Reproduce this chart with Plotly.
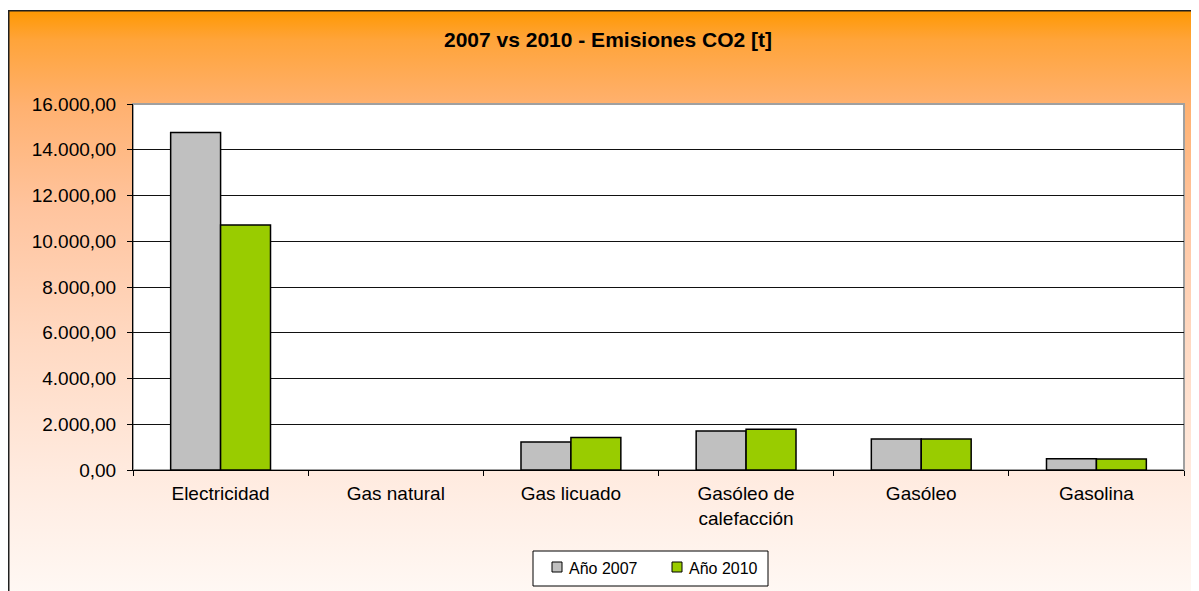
import base64
import plotly.graph_objects as go

categories = ["Electricidad", "Gas natural", "Gas licuado", "Gasóleo de<br>calefacción", "Gasóleo", "Gasolina"]
emisiones_2007 = [14750, 0, 1220, 1710, 1360, 490]
emisiones_2010 = [10710, 0, 1420, 1780, 1350, 480]
y_ticks = [0, 2000, 4000, 6000, 8000, 10000, 12000, 14000, 16000]
series_names = ["Año 2007", "Año 2010"]
series_colors = ["#C0C0C0", "#99CC00"]

W, H = 1199, 591
L, R, T, B = 125, 23, 96, 129
PW, PH = W - L - R, H - T - B


def px(x):
    return (x - L) / PW


def py(y):
    return (H - B - y) / PH


# orange -> white vertical gradient for the chart area (svg image)
svg = (
    '<svg xmlns="http://www.w3.org/2000/svg" width="100" height="100" preserveAspectRatio="none">'
    '<defs><linearGradient id="g" x1="0" y1="0" x2="0" y2="1">'
    '<stop offset="0" stop-color="#FF9800"/>'
    '<stop offset="0.05" stop-color="#FFA43A"/>'
    '<stop offset="0.16" stop-color="#FFB170"/>'
    '<stop offset="0.33" stop-color="#FFC49E"/>'
    '<stop offset="0.55" stop-color="#FFD9C2"/>'
    '<stop offset="0.78" stop-color="#FFEBE0"/>'
    '<stop offset="1" stop-color="#FFFAF7"/>'
    '</linearGradient></defs>'
    '<rect width="100" height="100" fill="url(#g)"/></svg>'
)
svg_uri = "data:image/svg+xml;base64," + base64.b64encode(svg.encode()).decode()

fig = go.Figure()
for name, vals, col in zip(series_names, [emisiones_2007, emisiones_2010], series_colors):
    fig.add_trace(go.Bar(
        name=name, x=categories, y=vals, marker_color=col,
        marker_line=dict(color="#000000", width=[1.5 if v else 0 for v in vals]),
        showlegend=False,
    ))

# hand drawn legend (Excel style: small squares close to the text)
legend_shapes = [
    dict(type="rect", xref="paper", yref="paper", x0=px(525), x1=px(760), y0=py(578), y1=py(543),
         fillcolor="white", line=dict(color="black", width=1), layer="above"),
]
legend_notes = []
for i, (name, col) in enumerate(zip(series_names, series_colors)):
    sx = 544 + i * 120
    legend_shapes.append(dict(type="rect", xref="paper", yref="paper",
                              x0=px(sx), x1=px(sx + 10), y0=py(564), y1=py(554),
                              fillcolor=col, line=dict(color="black", width=1), layer="above"))
    legend_notes.append(dict(text=name, xref="paper", yref="paper", x=px(sx + 15), y=py(560),
                             xanchor="left", yanchor="middle", showarrow=False,
                             font=dict(size=16)))

fig.update_layout(
    width=W,
    height=H,
    margin=dict(l=L, r=R, t=T, b=B),
    barmode="group",
    bargap=0.43,
    bargroupgap=0,
    separators=",.",
    paper_bgcolor="white",
    plot_bgcolor="white",
    font=dict(family="Liberation Sans, Arial, sans-serif", size=19, color="black"),
    title=dict(
        text="<b>2007 vs 2010 - Emisiones CO2 [t]</b>",
        x=px(600), xref="paper", xanchor="center",
        y=1 - 32 / H, yref="container", yanchor="middle",
        font=dict(size=21),
    ),
    showlegend=False,
    annotations=legend_notes,
    images=[dict(
        source=svg_uri, xref="paper", yref="paper",
        x=px(0), y=py(2), sizex=(W + 20) / PW, sizey=(H + 10) / PH,
        xanchor="left", yanchor="top", sizing="stretch", layer="below",
    )],
    shapes=[
        # white plot area over the gradient
        dict(type="rect", xref="x domain", yref="y domain", x0=0, x1=1, y0=0, y1=1,
             fillcolor="white", line=dict(color="#A0A0A0", width=2), layer="below"),
        # chart border
        dict(type="rect", xref="paper", yref="paper",
             x0=px(0.75), x1=px(W + 20), y0=py(H + 20), y1=py(2.75),
             line=dict(color="#202020", width=1.5), fillcolor="rgba(0,0,0,0)", layer="above"),
    ] + legend_shapes,
)

fig.update_yaxes(
    range=[0, 16000],
    tickvals=y_ticks,
    tickformat=",.2f",
    showgrid=True,
    gridcolor="#111111",
    gridwidth=1,
    showline=True,
    linecolor="#000000",
    linewidth=1,
    ticks="outside",
    ticklen=5,
    tickcolor="#000000",
    zeroline=False,
    ticklabelstandoff=7,
)
fig.update_xaxes(
    showline=True,
    linecolor="#000000",
    linewidth=1,
    ticks="outside",
    tickson="boundaries",
    ticklen=5,
    tickcolor="#000000",
    showgrid=False,
    ticklabelstandoff=6,
)

fig.write_html("out.html")
